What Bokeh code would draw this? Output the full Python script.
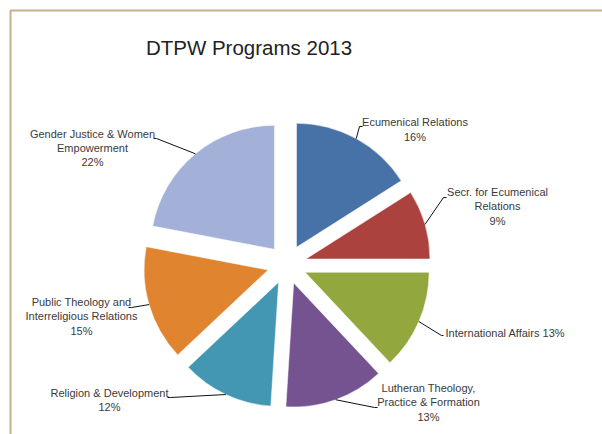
import math
from bokeh.plotting import figure
from bokeh.models import Range1d
from bokeh.core.properties import value
from bokeh.embed import file_html
from bokeh.resources import INLINE

# ---- data ----
categories = ["Ecumenical Relations", "Secr. for Ecumenical Relations", "International Affairs",
              "Lutheran Theology, Practice & Formation", "Religion & Development",
              "Public Theology and Interreligious Relations", "Gender Justice & Women Empowerment"]
label_texts = ["Ecumenical Relations", "Secr. for Ecumenical\nRelations", "International Affairs",
               "Lutheran Theology,\nPractice & Formation", "Religion & Development",
               "Public Theology and\nInterreligious Relations", "Gender Justice & Women\nEmpowerment"]
percents = [16, 9, 13, 13, 12, 15, 22]
colors = ["#4672A8", "#AC423E", "#92A83F", "#755290", "#4397B3", "#E0842F", "#A3B1D8"]
title_text = "DTPW Programs 2013"

# ---- layout (page pixel coords, converted to data) ----
W, H = 602, 434
def px(x): return x
def py(y): return H - y

CX, CY = 286.5, 264.0      # pie centre (page)
R = 124.0                  # radius
EXPLODE = 19.7             # explode distance

# label placement: (x, y, align), leader start and elbow (page coords)
label_pos = [(414.5, 129, "center"), (497, 206, "center"), (445, 332, "left"),
             (428, 402, "center"), (109, 399.5, "center"), (81, 316, "center"),
             (92, 147.5, "center")]
leader_start = [(362, 126), (446, 197), (443, 335), (377, 407), (167, 397), (128, 307), (153, 138)]
leader_elbow = [(359, 126), (443, 197), (441, 335), (374, 407), (170, 397), (131, 307), (156, 138)]

p = figure(width=W, height=H, x_range=Range1d(0, W), y_range=Range1d(0, H),
           output_backend="svg", toolbar_location=None, min_border=0)
p.axis.visible = False
p.grid.visible = False
p.outline_line_color = None
p.background_fill_color = "white"
p.border_fill_color = "white"

# frame border (tan)
p.line([px(10), px(10), px(640)], [py(480), py(10), py(10)], line_color="#C4B08B", line_width=2)

total = sum(percents)
cum = 0.0
for i, pc in enumerate(percents):
    a0 = cum / total * 360.0
    a1 = (cum + pc) / total * 360.0
    cum += pc
    mid = math.radians((a0 + a1) / 2)
    # offset centre in data coords (y up)
    ox = px(CX) + EXPLODE * math.sin(mid)
    oy = py(CY) + EXPLODE * math.cos(mid)
    p.wedge(x=[ox], y=[oy], radius=R, start_angle=math.radians(90 - a1),
            end_angle=math.radians(90 - a0), direction="anticlock",
            fill_color=colors[i], line_color="white", line_width=0.5)
    # leader line to arc at bisector
    ex = ox + R * math.sin(mid)
    ey = oy + R * math.cos(mid)
    sx, sy = leader_start[i]
    bx, by = leader_elbow[i]
    p.line([px(sx), px(bx), ex], [py(sy), py(by), ey], line_color="#111111", line_width=1)
    # label
    lx, ly, al = label_pos[i]
    if "International" in label_texts[i]:
        txt = f"{label_texts[i]} {pc}%"
    else:
        txt = f"{label_texts[i]}\n{pc}%"
    p.text(x=[px(lx)], y=[py(ly)], text=[txt], text_align=al, text_baseline="middle",
           text_font=value("Liberation Sans"), text_font_size="11px", text_color="#3A3A3A",
           text_line_height=1.2)

p.text(x=[px(248.5)], y=[py(47)], text=[title_text], text_align="center", text_baseline="middle",
       text_font=value("Liberation Sans"), text_font_size="20.5px", text_color="#222222")

open("out.html", "w").write(file_html(p, INLINE))
